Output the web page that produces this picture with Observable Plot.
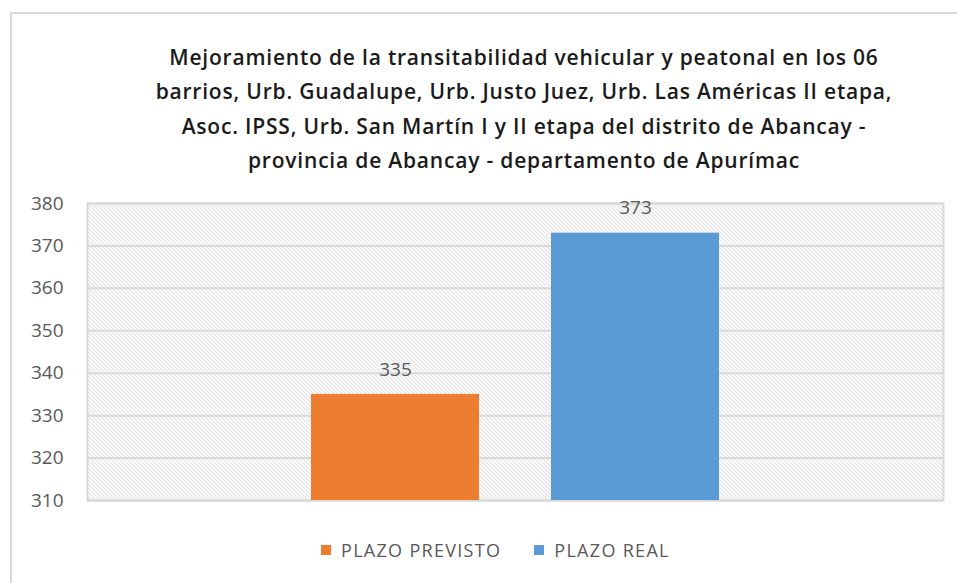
<!DOCTYPE html>
<html>
<head>
<meta charset="utf-8">
<script src="https://cdn.jsdelivr.net/npm/d3@7"></script>
<script src="https://cdn.jsdelivr.net/npm/@observablehq/plot@0.6"></script>
<style>
  html, body { margin: 0; padding: 0; background: #fff; }
  #wrap { position: relative; width: 957px; height: 583px; overflow: hidden; background: #fff; }
  #border { position: absolute; left: 10px; top: 12px; right: -5px; bottom: -5px; border-left: 2px solid #d9d9d9; border-top: 2px solid #d9d9d9; }
  #title { position: absolute; left: 60px; width: 928px; top: 40px; text-align: center; font-family: "Open Sans", sans-serif; font-weight: 600; font-size: 21px; letter-spacing: 0.8px; line-height: 34.3px; color: #1a1a1a; }
  #chart { position: absolute; left: 0; top: 180px; }
  #legend { position: absolute; left: 321px; top: 538px; display: flex; align-items: center; font-family: "Open Sans", sans-serif; font-size: 18px; letter-spacing: 1.3px; color: #595959; }
  .item { display: flex; align-items: center; margin-right: 33px; }
  .sw { width: 10px; height: 10px; margin-right: 10px; }
</style>
</head>
<body>
<svg width="0" height="0" style="position:absolute">
  <defs>
    <pattern id="hatch" patternUnits="userSpaceOnUse" width="4" height="4">
      <rect width="4" height="4" fill="#ffffff"></rect>
      <path d="M-1,-1 L5,5 M-1,3 L1,5 M3,-1 L5,1" stroke="#cdcdcd" stroke-width="1"></path>
    </pattern>
  </defs>
</svg>
<div id="wrap">
  <div id="border"></div>
  <div id="title"></div>
  <div id="chart"></div>
  <div id="legend"></div>
</div>
<script>
const titleLines = [
  "Mejoramiento de la transitabilidad vehicular y peatonal en los 06",
  "barrios, Urb. Guadalupe, Urb. Justo Juez, Urb. Las Américas II etapa,",
  "Asoc. IPSS, Urb. San Martín I y II etapa del distrito de Abancay -",
  "provincia de Abancay - departamento de Apurímac"
];
const series = ["PLAZO PREVISTO", "PLAZO REAL"];
const values = [335, 373];
const colors = ["#ED7D31", "#5B9BD5"];
const yTicks = [310, 320, 330, 340, 350, 360, 370, 380];

const data = series.map((s, i) => ({serie: s, value: values[i]}));

document.getElementById("title").innerHTML = titleLines.map(l => `<div>${l}</div>`).join("");

const chart = Plot.plot({
  width: 957,
  height: 340,
  marginLeft: 87,
  marginRight: 14,
  marginTop: 23,
  marginBottom: 20,
  style: {fontFamily: "Open Sans, sans-serif", fontSize: "19px", color: "#595959", background: "transparent"},
  x: {type: "band", domain: series, paddingInner: 0.3, paddingOuter: 0.933, axis: null},
  y: {domain: [310, 380], ticks: yTicks, tickSize: 0, tickPadding: 24, label: null, grid: false},
  color: {domain: series, range: colors},
  marks: [
    Plot.frame({fill: "url(#hatch)", stroke: null}),
    Plot.gridY(yTicks, {stroke: "#d9d9d9", strokeOpacity: 1, strokeWidth: 2}),
    Plot.frame({stroke: "#d9d9d9", strokeWidth: 2}),
    Plot.barY(data, {x: "serie", y: "value", fill: "serie", inset: 0, clip: "frame"}),
    Plot.text(data, {x: "serie", y: "value", text: d => String(d.value), dy: -25, fill: "#595959", fontSize: 19})
  ]
});
document.getElementById("chart").appendChild(chart);

document.getElementById("legend").innerHTML = series.map((s, i) =>
  `<div class="item"><div class="sw" style="background:${colors[i]}"></div><span>${s}</span></div>`).join("");
</script>
</body>
</html>
